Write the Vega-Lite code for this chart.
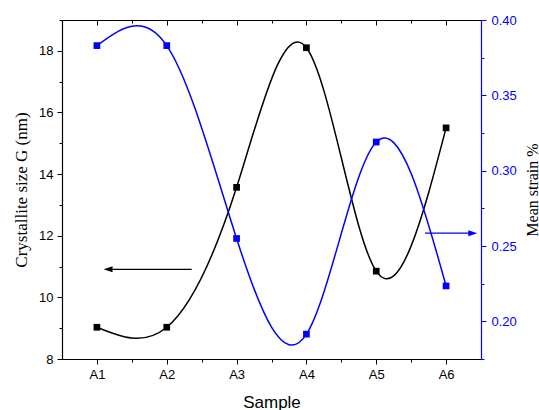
{
  "$schema": "https://vega.github.io/schema/vega-lite/v6.json",
  "width": 419,
  "height": 339,
  "autosize": {"type": "none"},
  "padding": {"left": 62, "top": 20, "right": 58, "bottom": 51},
  "background": "white",
  "config": {
    "view": {"stroke": null},
    "axis": {
      "labelFont": "Liberation Sans",
      "labelFontSize": 13,
      "labelColor": "black",
      "domainColor": "black",
      "tickColor": "black",
      "domainWidth": 1.2,
      "tickWidth": 1,
      "grid": false,
      "titleFontWeight": "normal",
      "titleColor": "black",
      "labelFlush": false,
      "labelOverlap": false
    }
  },
  "datasets": {
    "size": [
      {"sample": 1, "G": 9.03},
      {"sample": 2, "G": 9.03},
      {"sample": 3, "G": 13.57},
      {"sample": 4, "G": 18.1},
      {"sample": 5, "G": 10.85},
      {"sample": 6, "G": 15.5}
    ],
    "strain": [
      {"sample": 1, "S": 0.383},
      {"sample": 2, "S": 0.383},
      {"sample": 3, "S": 0.255},
      {"sample": 4, "S": 0.1915},
      {"sample": 5, "S": 0.319},
      {"sample": 6, "S": 0.2235}
    ],
    "arrowG": [{"x": 1.16, "x2": 2.357, "y": 10.91}],
    "arrowS": [{"x": 6.383, "x2": 5.698, "y": 0.2585}]
  },
  "layer": [
    {
      "layer": [
        {
          "data": {"name": "size"},
          "mark": {"type": "line", "interpolate": "natural", "color": "black", "strokeWidth": 1.5},
          "encoding": {
            "x": {
              "field": "sample", "type": "quantitative",
              "scale": {"domain": [0.5, 6.5], "nice": false, "zero": false},
              "axis": {
                "orient": "bottom",
                "values": [1, 1.5, 2, 2.5, 3, 3.5, 4, 4.5, 5, 5.5, 6],
                "tickCount": 50,
                "labelExpr": "datum.value % 1 == 0 ? 'A' + datum.value : ''",
                "labelOverlap": false,
                "tickSize": {"condition": {"test": "datum.value % 1 == 0", "value": 5}, "value": 3},
                "labelPadding": 4,
                "title": "Sample",
                "titleFont": "Liberation Sans",
                "titleFontSize": 17,
                "titlePadding": 13
              }
            },
            "y": {
              "field": "G", "type": "quantitative",
              "scale": {"domain": [8, 19], "nice": false, "zero": false},
              "axis": {
                "orient": "left",
                "values": [8, 9, 10, 11, 12, 13, 14, 15, 16, 17, 18, 19],
                "tickCount": 50,
                "labelExpr": "datum.value % 2 == 0 ? datum.value : ''",
                "labelOverlap": false,
                "tickSize": {"condition": {"test": "datum.value % 2 == 0", "value": 5}, "value": 3},
                "labelPadding": 4,
                "title": "Crystallite size G (nm)",
                "titleFont": "Liberation Serif",
                "titleFontSize": 17,
                "titlePadding": 8
              }
            }
          }
        },
        {
          "data": {"name": "size"},
          "mark": {"type": "point", "shape": "square", "filled": true, "color": "black", "size": 45, "opacity": 1},
          "encoding": {
            "x": {"field": "sample", "type": "quantitative"},
            "y": {"field": "G", "type": "quantitative"}
          }
        },
        {
          "data": {"name": "arrowG"},
          "mark": {"type": "rule", "color": "black", "strokeWidth": 1.3},
          "encoding": {
            "x": {"field": "x", "type": "quantitative"},
            "x2": {"field": "x2"},
            "y": {"field": "y", "type": "quantitative"}
          }
        },
        {
          "data": {"name": "arrowG"},
          "mark": {"type": "point", "shape": "M-1,0L1,-0.67L1,0.67Z", "filled": true, "color": "black", "size": 81, "opacity": 1},
          "encoding": {
            "x": {"field": "x", "type": "quantitative"},
            "y": {"field": "y", "type": "quantitative"}
          }
        }
      ]
    },
    {
      "layer": [
        {
          "data": {"name": "strain"},
          "mark": {"type": "line", "interpolate": "natural", "color": "#0000ff", "strokeWidth": 1.5},
          "encoding": {
            "x": {
              "field": "sample", "type": "quantitative",
              "axis": {
                "orient": "top",
                "values": [1, 1.5, 2, 2.5, 3, 3.5, 4, 4.5, 5, 5.5, 6],
                "tickCount": 50,
                "labels": false,
                "tickSize": {"condition": {"test": "datum.value % 1 == 0", "value": -5}, "value": -3},
                "title": null
              }
            },
            "y": {
              "field": "S", "type": "quantitative",
              "scale": {"domain": [0.175, 0.4], "nice": false, "zero": false},
              "axis": {
                "orient": "right",
                "values": [0.175, 0.2, 0.225, 0.25, 0.275, 0.3, 0.325, 0.35, 0.375, 0.4],
                "tickCount": 50,
                "labelExpr": "(datum.value == 0.2 || datum.value == 0.25 || datum.value == 0.3 || datum.value == 0.35 || datum.value == 0.4) ? format(datum.value, '.2f') : ''",
                "labelOverlap": false,
                "tickSize": {"condition": {"test": "datum.value == 0.2 || datum.value == 0.25 || datum.value == 0.3 || datum.value == 0.35 || datum.value == 0.4", "value": 5}, "value": 3},
                "labelPadding": 5,
                "labelColor": "#0000ff",
                "domainColor": "#0000ff",
                "tickColor": "#0000ff",
                "title": "Mean strain %",
                "titleFont": "Liberation Serif",
                "titleFontSize": 16,
                "titleAngle": 270,
                "titleBaseline": "top",
                "titlePadding": 8
              }
            }
          }
        },
        {
          "data": {"name": "strain"},
          "mark": {"type": "point", "shape": "square", "filled": true, "color": "#0000ff", "size": 45, "opacity": 1},
          "encoding": {
            "x": {"field": "sample", "type": "quantitative"},
            "y": {"field": "S", "type": "quantitative"}
          }
        },
        {
          "data": {"name": "arrowS"},
          "mark": {"type": "rule", "color": "#0000ff", "strokeWidth": 1.3},
          "encoding": {
            "x": {"field": "x", "type": "quantitative"},
            "x2": {"field": "x2"},
            "y": {"field": "y", "type": "quantitative"}
          }
        },
        {
          "data": {"name": "arrowS"},
          "mark": {"type": "point", "shape": "M1,0L-1,-0.67L-1,0.67Z", "filled": true, "color": "#0000ff", "size": 81, "opacity": 1},
          "encoding": {
            "x": {"field": "x", "type": "quantitative"},
            "y": {"field": "y", "type": "quantitative"}
          }
        }
      ]
    }
  ],
  "resolve": {"scale": {"y": "independent"}, "axis": {"x": "independent"}}
}
